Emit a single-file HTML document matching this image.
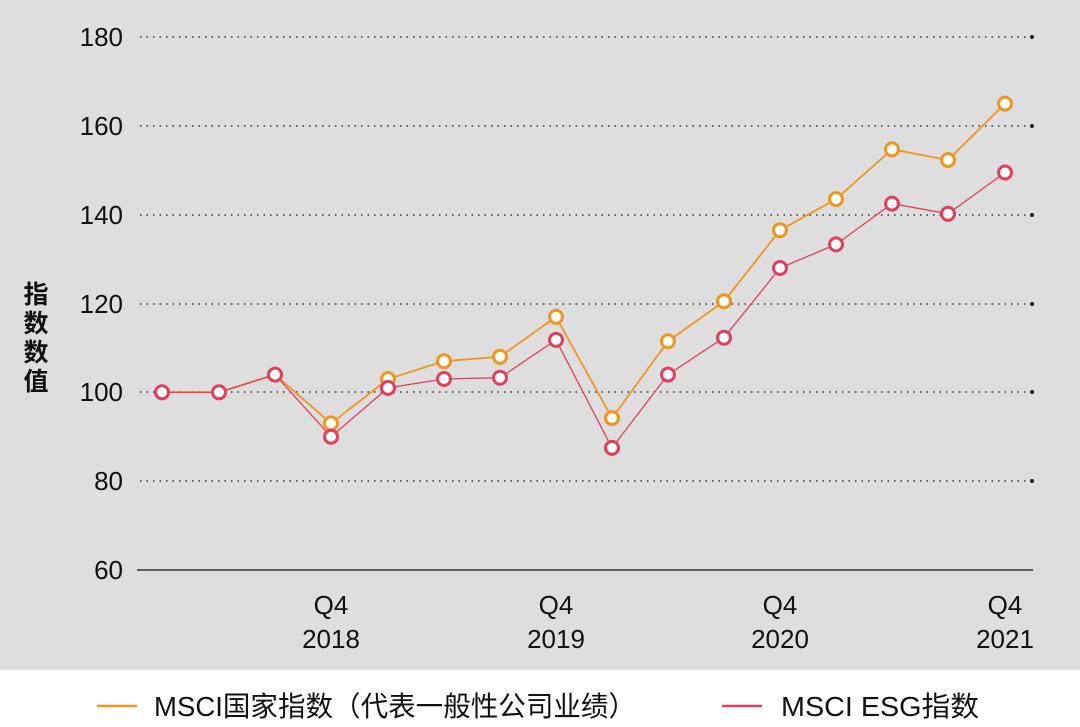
<!DOCTYPE html>
<html><head><meta charset="utf-8"><style>
body{margin:0;width:1080px;height:722px;overflow:hidden;background:#fff;font-family:"Liberation Sans","Noto Sans CJK SC",sans-serif}
</style></head><body>
<svg width="1080" height="722" xmlns="http://www.w3.org/2000/svg" font-family="Liberation Sans, Noto Sans CJK SC, sans-serif">
<rect x="0" y="0" width="1080" height="670" fill="#dedede"/>
<g stroke="#333" stroke-width="1.5" stroke-dasharray="1.5 5">
<line x1="140" y1="37" x2="1030" y2="37"/>
<line x1="140" y1="126" x2="1030" y2="126"/>
<line x1="140" y1="215" x2="1030" y2="215"/>
<line x1="140" y1="304" x2="1030" y2="304"/>
<line x1="140" y1="392" x2="1030" y2="392"/>
<line x1="140" y1="481" x2="1030" y2="481"/>
</g>
<g fill="#222"><circle cx="1032" cy="37" r="2"/><circle cx="1032" cy="126" r="2"/><circle cx="1032" cy="215" r="2"/><circle cx="1032" cy="304" r="2"/><circle cx="1032" cy="392" r="2"/><circle cx="1032" cy="481" r="2"/></g>
<line x1="137" y1="570" x2="1033" y2="570" stroke="#333" stroke-width="1.5"/>
<g font-size="26" fill="#111" text-anchor="end">
<text x="123" y="46">180</text><text x="123" y="135">160</text><text x="123" y="224">140</text><text x="123" y="313">120</text><text x="123" y="401">100</text><text x="123" y="490">80</text><text x="123" y="579">60</text>
</g>
<g font-size="26" fill="#111" text-anchor="middle">
<text x="331" y="614">Q4</text><text x="331" y="648">2018</text>
<text x="556" y="614">Q4</text><text x="556" y="648">2019</text>
<text x="780" y="614">Q4</text><text x="780" y="648">2020</text>
<text x="1005" y="614">Q4</text><text x="1005" y="648">2021</text>
</g>
<g font-size="25" font-weight="bold" fill="#111" text-anchor="middle">
<text x="36" y="303">指</text><text x="36" y="332">数</text><text x="36" y="361">数</text><text x="36" y="390">值</text>
</g>
<polyline fill="none" stroke="#f0961e" stroke-width="1.8" points="162,392.3 219,392.3 275,374.6 331,423.4 388,379 444,361.2 500,356.8 556,316.8 612,418.1 668,341.3 724,301.3 780,230.2 836,199.1 892,149.4 948,160 1005,103.6"/>
<polyline fill="none" stroke="#e0405e" stroke-width="1.3" points="162,392.3 219,392.3 275,374.6 331,436.75 388,387.9 444,379 500,377.7 556,339.9 612,447.9 668,374.6 724,337.7 780,268 836,244.4 892,203.6 948,213.8 1005,172.5"/>
<g fill="#fff" stroke="#f0961e" stroke-width="3">
<circle cx="331" cy="423.4" r="6.5"/><circle cx="388" cy="379" r="6.5"/><circle cx="444" cy="361.2" r="6.5"/><circle cx="500" cy="356.8" r="6.5"/><circle cx="556" cy="316.8" r="6.5"/><circle cx="612" cy="418.1" r="6.5"/><circle cx="668" cy="341.3" r="6.5"/><circle cx="724" cy="301.3" r="6.5"/><circle cx="780" cy="230.2" r="6.5"/><circle cx="836" cy="199.1" r="6.5"/><circle cx="892" cy="149.4" r="6.5"/><circle cx="948" cy="160" r="6.5"/><circle cx="1005" cy="103.6" r="6.5"/>
</g>
<g fill="#fff" stroke="#e0405e" stroke-width="3">
<circle cx="162" cy="392.3" r="6.5"/><circle cx="219" cy="392.3" r="6.5"/><circle cx="275" cy="374.6" r="6.5"/><circle cx="331" cy="436.75" r="6.5"/><circle cx="388" cy="387.9" r="6.5"/><circle cx="444" cy="379" r="6.5"/><circle cx="500" cy="377.7" r="6.5"/><circle cx="556" cy="339.9" r="6.5"/><circle cx="612" cy="447.9" r="6.5"/><circle cx="668" cy="374.6" r="6.5"/><circle cx="724" cy="337.7" r="6.5"/><circle cx="780" cy="268" r="6.5"/><circle cx="836" cy="244.4" r="6.5"/><circle cx="892" cy="203.6" r="6.5"/><circle cx="948" cy="213.8" r="6.5"/><circle cx="1005" cy="172.5" r="6.5"/>
</g>
<line x1="97" y1="706" x2="137" y2="706" stroke="#f0961e" stroke-width="2.5"/>
<text x="154" y="716" font-size="28" fill="#111" textLength="482" lengthAdjust="spacingAndGlyphs">MSCI国家指数（代表一般性公司业绩）</text>
<line x1="722" y1="706" x2="762" y2="706" stroke="#e0405e" stroke-width="2.5"/>
<text x="781" y="716" font-size="28" fill="#111" textLength="198" lengthAdjust="spacingAndGlyphs">MSCI ESG指数</text>
</svg>
</body></html>
